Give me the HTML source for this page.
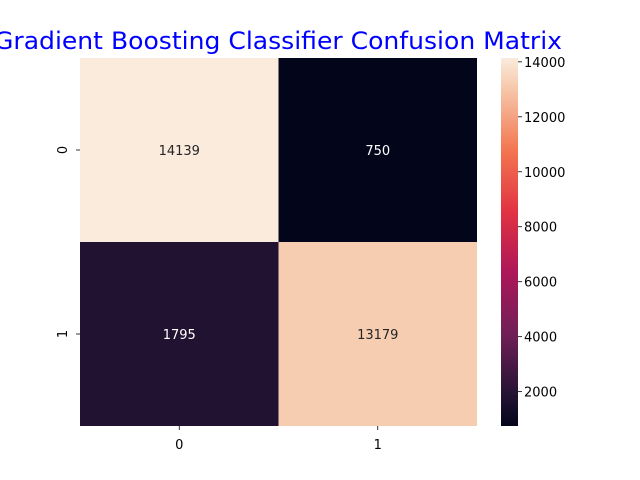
<!DOCTYPE html>
<html><head><meta charset="utf-8"><style>
body{margin:0;background:#fff}
svg{display:block;font-family:"DejaVu Sans","Liberation Sans",sans-serif}
</style></head><body>
<svg id="c" width="640" height="480" xmlns="http://www.w3.org/2000/svg">
<defs>
<linearGradient id="cb" x1="0" y1="1" x2="0" y2="0">
<stop offset="0" stop-color="#03051A"/>
<stop offset="0.083" stop-color="#231332"/>
<stop offset="0.25" stop-color="#701f57"/>
<stop offset="0.417" stop-color="#ad1759"/>
<stop offset="0.583" stop-color="#e13342"/>
<stop offset="0.75" stop-color="#f37651"/>
<stop offset="0.917" stop-color="#f6c8aa"/>
<stop offset="1" stop-color="#FAEBDD"/>
</linearGradient>
</defs>
<text x="278" y="49" font-size="24" fill="#0000ff" text-anchor="middle" textLength="568" lengthAdjust="spacingAndGlyphs">Gradient Boosting Classifier Confusion Matrix</text>
<g id="cells"></g>
<g id="axes"></g>
<rect x="501" y="58" width="17" height="368" fill="url(#cb)"/>
<g id="cbticks"></g>
</svg>
<script>
const rowLabels = ["0","1"];
const colLabels = ["0","1"];
const values = [[14139, 750],[1795, 13179]];
const cbTicks = [2000,4000,6000,8000,10000,12000,14000];

const NS="http://www.w3.org/2000/svg";
const X0=80,X1=477,Y0=58,Y1=426;
const flat=values.flat();
const vmin=Math.min(...flat), vmax=Math.max(...flat);
const stops=[[0,[3,5,26]],[0.083,[35,19,50]],[0.25,[112,31,87]],[0.417,[173,23,89]],[0.583,[225,51,66]],[0.75,[243,118,81]],[0.917,[246,200,170]],[1,[250,235,221]]];
function cmap(v){
  const t=(v-vmin)/(vmax-vmin);
  for(let i=1;i<stops.length;i++){
    if(t<=stops[i][0]){
      const a=stops[i-1],b=stops[i],f=(t-a[0])/(b[0]-a[0]);
      return a[1].map((c,k)=>Math.round(c+(b[1][k]-c)*f));
    }
  }
  return stops[stops.length-1][1];
}
function mk(tag,attrs,parent,txt){
  const e=document.createElementNS(NS,tag);
  for(const k in attrs)e.setAttribute(k,attrs[k]);
  if(txt!==undefined)e.textContent=txt;
  parent.appendChild(e);return e;
}
const cw=(X1-X0)/colLabels.length, ch=(Y1-Y0)/rowLabels.length;
const xPos=j=>X0+j*cw, yPos=i=>Y0+i*ch;
const cells=document.getElementById('cells');
values.forEach((row,i)=>row.forEach((v,j)=>{
  const col=cmap(v);
  const r=mk('rect',{x:xPos(j),y:yPos(i),width:cw,height:ch,fill:`rgb(${col})`},cells);
  
  
  const lum=0.299*col[0]+0.587*col[1]+0.114*col[2];
  const t=mk('text',{x:xPos(j)+cw/2,y:yPos(i)+ch/2+5,'font-size':13,'text-anchor':'middle',fill:lum>128?'#262626':'#ffffff'},cells,String(v));
  
  
}));
const ax=document.getElementById('axes');
colLabels.forEach((l,j)=>{
  const x=xPos(j)+cw/2;
  mk('line',{x1:x,x2:x,y1:Y1,y2:Y1+4,stroke:'#000','stroke-width':0.8},ax);
  const t=mk('text',{x:x,y:Y1+23,'font-size':13,'text-anchor':'middle',fill:'#000'},ax,l);
  
  
});
rowLabels.forEach((l,i)=>{
  const y=yPos(i)+ch/2;
  mk('line',{x1:X0-4,x2:X0,y1:y,y2:y,stroke:'#000','stroke-width':0.8},ax);
  const t=mk('text',{x:0,y:0,'font-size':13,'text-anchor':'middle',fill:'#000',transform:`translate(67,${y}) rotate(-90)`},ax,l);
  
  
});
const cb=document.getElementById('cbticks');
const cbY=v=>Y1-(v-vmin)/(vmax-vmin)*(Y1-Y0);
cbTicks.forEach(v=>{
  const y=cbY(v);
  mk('line',{x1:518,x2:522,y1:y,y2:y,stroke:'#000','stroke-width':0.8},cb);
  const t=mk('text',{x:524,y:y+5,'font-size':13,fill:'#000'},cb,String(v));
  
  
});
</script>
</body></html>
